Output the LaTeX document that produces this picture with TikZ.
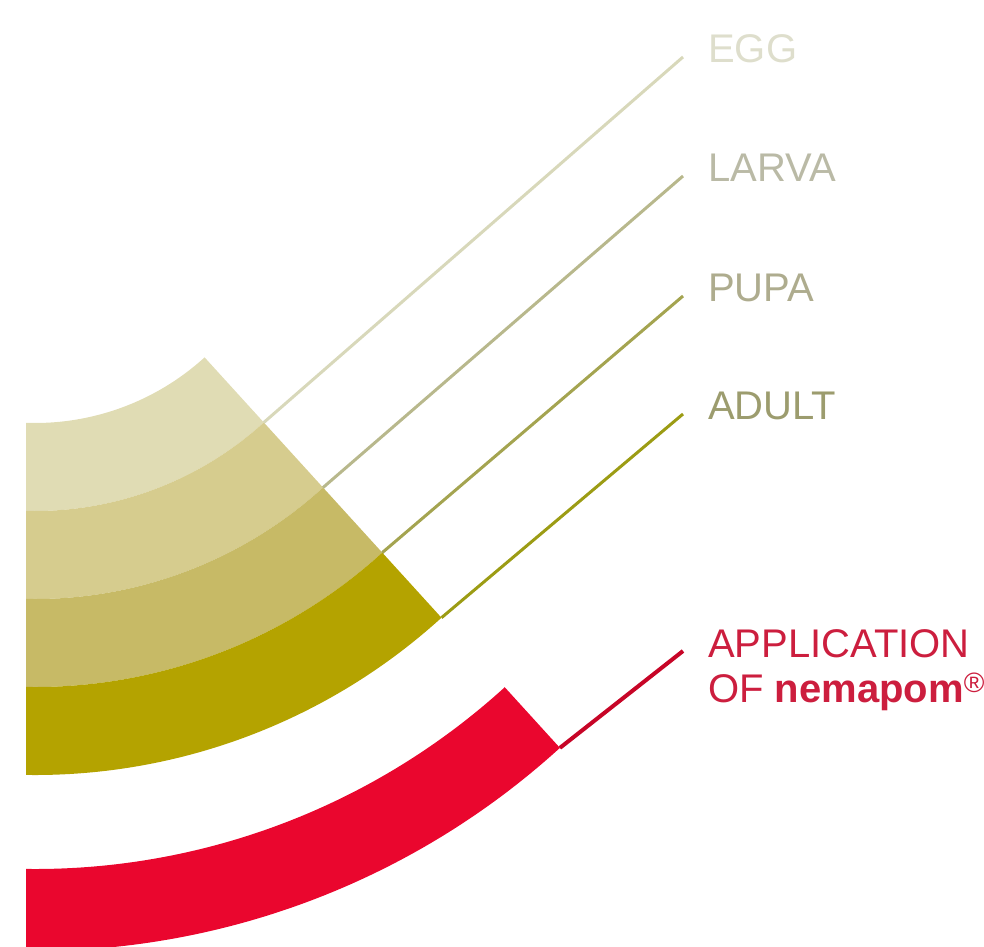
\documentclass[tikz,border=0pt]{standalone}
\usepackage{fontspec}
\setmainfont{Liberation Sans}
\usetikzlibrary{calc}
\definecolor{eggcolor}{RGB}{224,220,180}
\definecolor{larvacolor}{RGB}{214,204,142}
\definecolor{pupacolor}{RGB}{199,186,102}
\definecolor{adultcolor}{RGB}{180,163,0}
\definecolor{nemacolor}{RGB}{234,6,46}
\definecolor{eggline}{RGB}{216,216,186}
\definecolor{larvaline}{RGB}{184,184,140}
\definecolor{pupaline}{RGB}{164,164,80}
\definecolor{adultline}{RGB}{156,156,20}
\definecolor{eggtext}{RGB}{222,222,204}
\definecolor{larvatext}{RGB}{186,186,166}
\definecolor{pupatext}{RGB}{174,172,142}
\definecolor{adulttext}{RGB}{156,156,110}
\definecolor{nematext}{RGB}{204,30,62}

\begin{document}
\begin{tikzpicture}[
    x=1pt, y=1pt,
    stage/.style={anchor=base west, inner sep=0pt, font=\fontsize{40}{48}\selectfont, text=#1},
    leader/.style={line width=#1}
]
    \useasboundingbox (0,0) rectangle (984,946);
    \coordinate (ctr) at (35,775);

    % Life stage bands and the nemapom band, cut at the left margin
    \begin{scope}
        \clip (26,0) rectangle (984,946);
        \foreach \rin/\rout/\col/\nm in {252/340/eggcolor/egg, 340/428/larvacolor/larva,
                                        428/516/pupacolor/pupa, 516/604/adultcolor/adult,
                                        698/780/nemacolor/appl}{
            \fill[\col] ($(ctr)+(-100:\rin)$) arc[start angle=-100, end angle=-47.7, radius=\rin pt]
                -- ($(ctr)+(-47.7:\rout)$) arc[start angle=-47.7, end angle=-100, radius=\rout pt] -- cycle;
            \coordinate (\nm-end) at ($(ctr)+(-47.7:\rout)$);
        }
    \end{scope}

    % Labels
    \node[stage=eggtext] (egg) at (708,883) {EGG};
    \node[stage=larvatext] (larva) at (708,764) {LARVA};
    \node[stage=pupatext] (pupa) at (708,644) {PUPA};
    \node[stage=adulttext] (adult) at (708,526) {ADULT};
    \node[stage=nematext] (appl) at (708,289) {APPLICATION};
    \node[stage=nematext] (nema) at (708,244) {OF \textbf{nemapom}\textsuperscript{\textregistered}};

    % Leader lines
    \draw[leader=3pt, eggline] (egg-end) -- ([xshift=-25pt, yshift=6pt]egg.base west);
    \draw[leader=3pt, larvaline] (larva-end) -- ([xshift=-25pt, yshift=6pt]larva.base west);
    \draw[leader=3pt, pupaline] (pupa-end) -- ([xshift=-25pt, yshift=6pt]pupa.base west);
    \draw[leader=3pt, adultline] (adult-end) -- ([xshift=-25pt, yshift=6pt]adult.base west);
    \draw[leader=4pt, nemacolor!85!black] (appl-end) -- ([xshift=-25pt, yshift=6pt]appl.base west);
\end{tikzpicture}
\end{document}
